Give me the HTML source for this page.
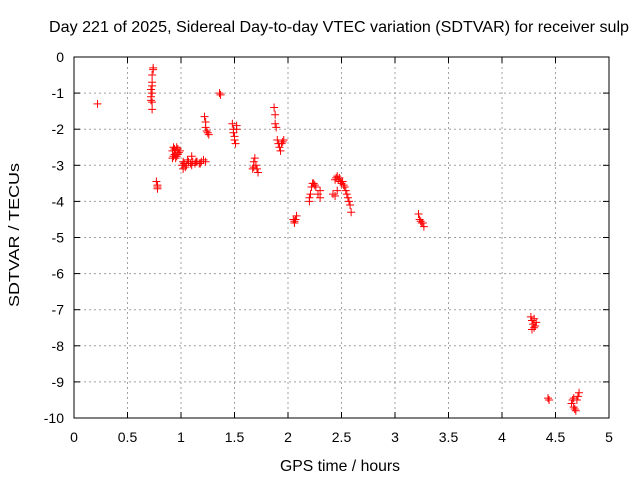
<!DOCTYPE html>
<html><head><meta charset="utf-8"><style>
body{margin:0;background:#fff;}
svg{display:block;font-family:"Liberation Sans",sans-serif;font-size:14px;}
</style></head><body>
<svg id="chart" width="640" height="480">
<text x="339" y="32" text-anchor="middle" font-size="16" textLength="580" lengthAdjust="spacingAndGlyphs">Day 221 of 2025, Sidereal Day-to-day VTEC variation (SDTVAR) for receiver sulp</text>
<text x="340" y="471" text-anchor="middle" font-size="16" textLength="120" lengthAdjust="spacingAndGlyphs">GPS time / hours</text>
<text transform="translate(19,235) rotate(-90)" text-anchor="middle" font-size="15" textLength="144" lengthAdjust="spacingAndGlyphs">SDTVAR / TECUs</text>
<g id="grid"></g><g id="ticks"></g><g id="pts"></g>
<rect x="74" y="57" width="535" height="361" fill="none" stroke="#000"/>
</svg>
<script>
const xTicks=[0,0.5,1,1.5,2,2.5,3,3.5,4,4.5,5];
const xTickLabels=["0","0.5","1","1.5","2","2.5","3","3.5","4","4.5","5"];
const yTicks=[0,-1,-2,-3,-4,-5,-6,-7,-8,-9,-10];
const yTickLabels=["0","-1","-2","-3","-4","-5","-6","-7","-8","-9","-10"];
const timeHours=[0.22,
0.74,0.74,0.73,0.73,0.73,0.72,0.73,0.72,0.72,0.73,0.73,
0.77,0.78,0.78,0.78,
0.92,0.93,0.94,0.95,0.96,0.97,0.98,0.93,0.95,0.97,0.99,0.94,0.96,0.92,
1.01,1.02,1.03,1.05,1.07,1.09,1.11,1.13,1.15,1.17,1.19,1.21,1.23,1.02,1.06,1.1,1.14,1.18,1.1,1.04,
1.22,1.23,1.23,1.24,1.25,1.26,
1.36,1.37,
1.48,1.49,1.49,1.5,1.5,1.51,1.52,1.52,
1.67,1.68,1.69,1.7,1.71,1.72,1.68,
1.87,1.88,1.88,1.89,1.9,1.91,1.92,1.93,1.94,1.95,1.96,
2.05,2.06,2.07,2.08,2.06,
2.2,2.21,2.22,2.23,2.24,2.25,2.26,2.28,2.3,2.2,2.3,
2.42,2.44,2.45,2.46,2.47,2.48,2.49,2.5,2.51,2.52,2.53,2.54,2.55,2.56,2.57,2.58,2.59,2.46,2.44,
3.22,3.23,3.24,3.25,3.26,3.27,
4.27,4.28,4.29,4.3,4.31,4.32,4.28,4.3,
4.43,4.44,
4.65,4.66,4.67,4.68,4.69,4.7,4.71,4.72,4.67];
const sdtvar=[-1.3,
-0.3,-0.35,-0.5,-0.7,-0.8,-0.9,-1.0,-1.1,-1.2,-1.25,-1.45,
-3.45,-3.55,-3.6,-3.65,
-2.6,-2.5,-2.55,-2.6,-2.5,-2.55,-2.65,-2.75,-2.8,-2.7,-2.6,-2.7,-2.75,-2.8,
-3.0,-3.1,-2.95,-3.0,-2.9,-2.95,-2.9,-2.95,-2.9,-2.95,-2.9,-2.85,-2.9,-2.9,-2.85,-2.75,-2.9,-2.95,-3.0,-3.05,
-1.65,-1.8,-1.95,-2.05,-2.1,-2.15,
-1.0,-1.05,
-1.85,-2.0,-2.1,-2.2,-2.3,-2.4,-1.9,-2.0,
-3.1,-2.9,-2.8,-3.0,-3.1,-3.2,-3.05,
-1.4,-1.6,-1.85,-1.95,-2.3,-2.4,-2.5,-2.6,-2.4,-2.35,-2.3,
-4.5,-4.55,-4.5,-4.4,-4.6,
-3.9,-3.8,-3.6,-3.5,-3.5,-3.55,-3.6,-3.8,-3.9,-4.0,-3.7,
-3.8,-3.4,-3.35,-3.3,-3.4,-3.35,-3.45,-3.5,-3.45,-3.55,-3.6,-3.7,-3.8,-3.9,-4.0,-4.1,-4.3,-3.7,-3.85,
-4.35,-4.5,-4.55,-4.6,-4.6,-4.7,
-7.2,-7.3,-7.4,-7.5,-7.45,-7.35,-7.55,-7.25,
-9.45,-9.5,
-9.6,-9.5,-9.7,-9.75,-9.8,-9.5,-9.4,-9.3,-9.45];
const X0=74,X1=609,Y0=57,Y1=418;
const xs=v=>X0+(v-0)/(5-0)*(X1-X0);
const ys=v=>Y0+(0-v)/(0-(-10))*(Y1-Y0);
const NS="http://www.w3.org/2000/svg";
function mk(t,a,p){const e=document.createElementNS(NS,t);for(const k in a)e.setAttribute(k,a[k]);p.appendChild(e);return e;}
const grid=document.getElementById('grid'),ticks=document.getElementById('ticks'),pts=document.getElementById('pts');
xTicks.forEach((v,i)=>{const x=xs(v);
 if(i>0&&i<xTicks.length-1){const g=mk('line',{x1:x,x2:x,y1:Y0,y2:Y1,stroke:'#a0a0a0','stroke-dasharray':'2,3'},grid);
 
 }
 mk('line',{x1:x,x2:x,y1:Y1,y2:Y1-6,stroke:'#000'},ticks);
 mk('line',{x1:x,x2:x,y1:Y0,y2:Y0+6,stroke:'#000'},ticks);
 const t=mk('text',{x:x,y:Y1+24,'text-anchor':'middle'},ticks);t.textContent=xTickLabels[i];
 
 });
yTicks.forEach((v,i)=>{const y=ys(v);
 if(i>0&&i<yTicks.length-1){const g=mk('line',{x1:X0,x2:X1,y1:y,y2:y,stroke:'#a0a0a0','stroke-dasharray':'2,3'},grid);
 
 }
 mk('line',{x1:X0,x2:X0+6,y1:y,y2:y,stroke:'#000'},ticks);
 mk('line',{x1:X1,x2:X1-6,y1:y,y2:y,stroke:'#000'},ticks);
 const t=mk('text',{x:X0-10,y:y+5,'text-anchor':'end'},ticks);t.textContent=yTickLabels[i];
 
 });
timeHours.forEach((h,i)=>{const x=xs(h),y=ys(sdtvar[i]);
 const p=mk('path',{d:`M${x-4},${y}H${x+4}M${x},${y-4}V${y+4}`,stroke:'#ff0000','stroke-width':1},pts);
 
 });
</script>
</body></html>
